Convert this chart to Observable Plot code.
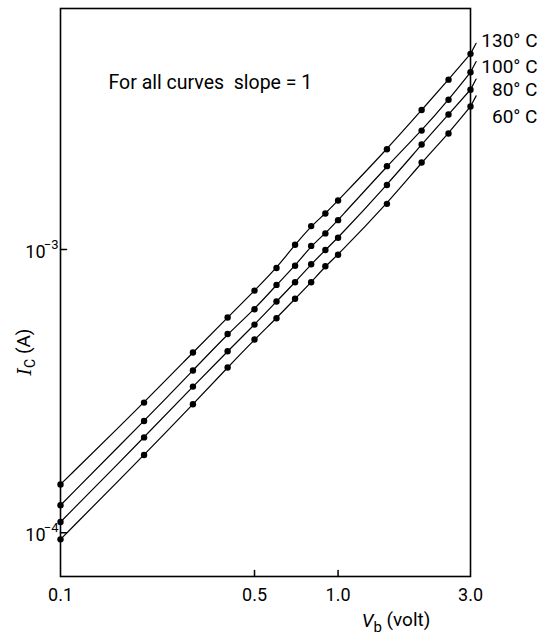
<!DOCTYPE html>
<html><head><meta charset="utf-8">
<script src="https://cdn.jsdelivr.net/npm/d3@7"></script>
<script src="https://cdn.jsdelivr.net/npm/@observablehq/plot@0.6"></script>
<style>body{margin:0;background:#fff}</style>
</head><body><div id="chart"></div>
<script>
// Base voltage V_b (volt)
const voltages = [0.1, 0.2, 0.3, 0.4, 0.5, 0.6, 0.7, 0.8, 0.9, 1.0, 1.5, 2.0, 2.5, 3.0];
// Collector current I_C (A) per temperature
const ic130 = [1.48e-4, 2.88e-4, 4.33e-4, 5.75e-4, 7.16e-4, 8.60e-4, 1.04e-3, 1.21e-3, 1.34e-3, 1.49e-3, 2.26e-3, 3.11e-3, 3.98e-3, 4.91e-3];
const ic100 = [1.25e-4, 2.48e-4, 3.74e-4, 5.03e-4, 6.15e-4, 7.50e-4, 8.76e-4, 1.03e-3, 1.14e-3, 1.27e-3, 1.97e-3, 2.63e-3, 3.38e-3, 4.23e-3];
const ic80  = [1.09e-4, 2.17e-4, 3.28e-4, 4.37e-4, 5.43e-4, 6.55e-4, 7.66e-4, 8.87e-4, 9.96e-4, 1.10e-3, 1.69e-3, 2.35e-3, 3.00e-3, 3.67e-3];
const ic60  = [9.47e-5, 1.88e-4, 2.84e-4, 3.83e-4, 4.81e-4, 5.72e-4, 6.70e-4, 7.66e-4, 8.73e-4, 9.58e-4, 1.45e-3, 2.03e-3, 2.57e-3, 3.20e-3];
const temperatures = ["130° C", "100° C", "80° C", "60° C"];
const labelIc = [5.47e-3, 4.41e-3, 3.67e-3, 2.95e-3];
const xTicks = [0.1, 0.5, 1.0, 3.0];
const xTickLabels = ["0.1", "0.5", "1.0", "3.0"];
const yTicks = [1e-4, 1e-3];
const yTickBase = ["10", "10"];
const yTickExp = ["−4", "−3"];
const note = "For all curves  slope = 1";

const series = [ic130, ic100, ic80, ic60];
const points = series.flatMap((vals, k) => vals.map((v, i) => ({temp: temperatures[k], vb: voltages[i], ic: v})));
const ends = series.map((vals, k) => ({temp: temperatures[k], vb: voltages[voltages.length - 1], ic: vals[vals.length - 1], lab: labelIc[k]}));
const xDomain = [0.1, 3.0];
const yDomain = [7e-5, 7.1e-3];

const lineShape = {draw(context, l) { context.moveTo(0, 0); context.lineTo(0, -l); }};
const font = "Roboto, 'DejaVu Sans', sans-serif";

const plot = Plot.plot({
  width: 547, height: 643,
  marginLeft: 60, marginRight: 77, marginTop: 8, marginBottom: 67,
  style: {fontFamily: font, background: "#fff", color: "#000"},
  x: {type: "log", domain: xDomain, axis: null, label: null},
  y: {type: "log", domain: yDomain, axis: null, label: null},
  marks: [
    Plot.frame({stroke: "#000", strokeWidth: 1.6}),
    Plot.text(xTicks, {x: d => d, y: () => yDomain[0], text: (d, i) => xTickLabels[i], dy: 19, fontSize: 18, fill: "#000", clip: false}),
    Plot.text(yTicks, {x: () => xDomain[0], y: d => d, text: (d, i) => yTickBase[i], textAnchor: "end", dx: -15, dy: 3, fontSize: 18, fill: "#000"}),
    Plot.text(yTicks, {x: () => xDomain[0], y: d => d, text: (d, i) => yTickExp[i], textAnchor: "end", dx: -2, dy: -5, fontSize: 13, fill: "#000"}),
    Plot.vector(xTicks.slice(1, 3), {x: d => d, y: () => yDomain[0], rotate: 0, length: 6, anchor: "start", shape: lineShape, stroke: "#000", strokeWidth: 1.5}),
    Plot.vector(yTicks, {x: () => xDomain[0], y: d => d, rotate: 90, length: 6, anchor: "start", shape: lineShape, stroke: "#000", strokeWidth: 1.5}),
    Plot.line(points, {x: "vb", y: "ic", z: "temp", stroke: "#000", strokeWidth: 1.2, curve: "basis"}),
    Plot.dot(points, {x: "vb", y: "ic", r: 3.2, fill: "#000"}),
    Plot.vector(ends, {x: "vb", y: "ic", rotate: 28, length: 12, anchor: "start", shape: lineShape, stroke: "#000", strokeWidth: 1.2, clip: false}),
    Plot.text(ends, {x: "vb", y: "lab", text: "temp", textAnchor: "end", dx: 67, fontSize: 19, fill: "#000"}),
    Plot.text([note], {frameAnchor: "top-left", dx: 48, dy: 67, textAnchor: "start", fontSize: 19.5, fill: "#000"})
  ]
});
document.getElementById("chart").appendChild(plot);

const svg = d3.select(plot);
const yl = svg.append("text").attr("transform", "translate(31,352) rotate(-90)")
  .attr("text-anchor", "middle").attr("font-size", 19).attr("font-family", font).attr("fill", "#000");
yl.append("tspan").attr("font-style", "italic").attr("font-family", "'DejaVu Serif', serif").text("I");
yl.append("tspan").attr("font-size", 14).attr("dy", "0.3em").text("C");
yl.append("tspan").attr("dy", "-0.3em").text(" (A)");
const xl = svg.append("text").attr("transform", "translate(396,627)")
  .attr("text-anchor", "middle").attr("font-size", 19).attr("font-family", font).attr("fill", "#000");
xl.append("tspan").attr("font-style", "italic").text("V");
xl.append("tspan").attr("font-size", 15).attr("dy", "0.35em").text("b");
xl.append("tspan").attr("dy", "-0.35em").text(" (volt)");
</script>
</body></html>
